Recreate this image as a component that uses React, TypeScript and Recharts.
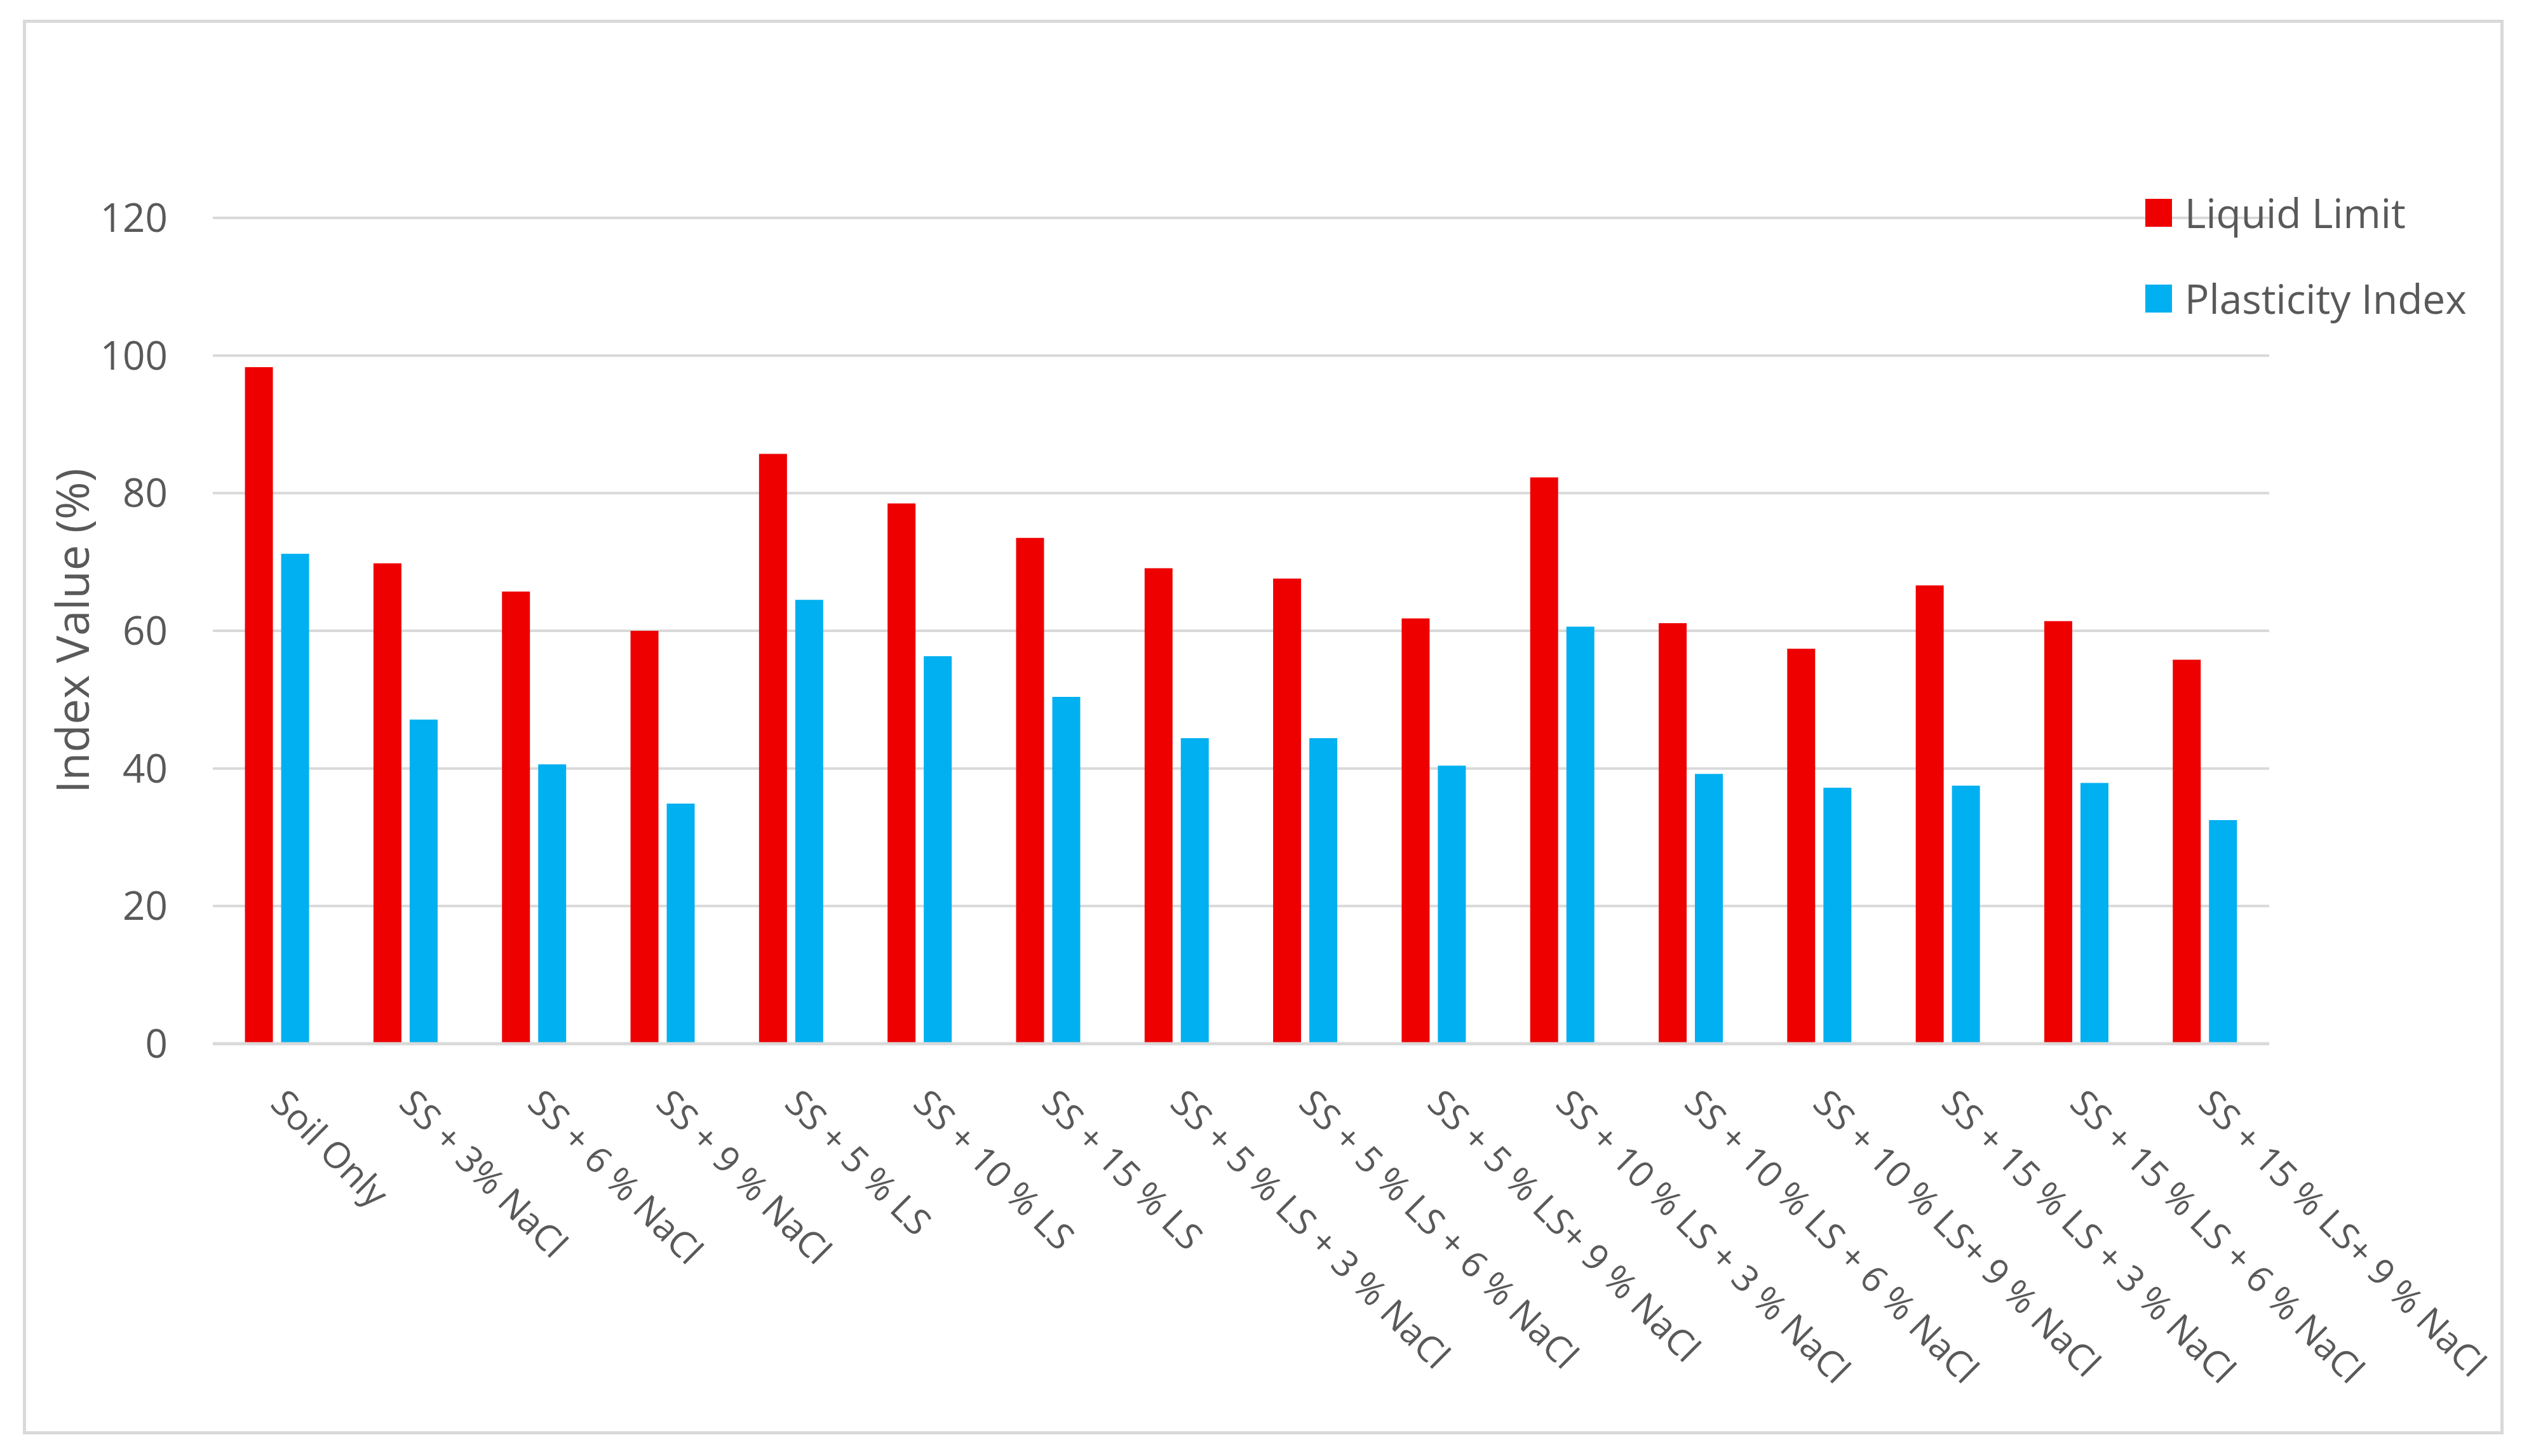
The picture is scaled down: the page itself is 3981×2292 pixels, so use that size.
import { BarChart, Bar, XAxis, YAxis, CartesianGrid, Legend } from "recharts";

const CATEGORIES = [
  "Soil Only",
  "SS + 3% NaCl",
  "SS + 6 % NaCl",
  "SS + 9 % NaCl",
  "SS + 5 % LS",
  "SS + 10 % LS",
  "SS + 15 % LS",
  "SS + 5 % LS + 3 % NaCl",
  "SS + 5 % LS + 6 % NaCl",
  "SS + 5 % LS+ 9 % NaCl",
  "SS + 10 % LS + 3 % NaCl",
  "SS + 10 % LS + 6 % NaCl",
  "SS + 10 % LS+ 9 % NaCl",
  "SS + 15 % LS + 3 % NaCl",
  "SS + 15 % LS + 6 % NaCl",
  "SS + 15 % LS+ 9 % NaCl",
];

const LIQUID_LIMIT = [98.3, 69.8, 65.7, 60.0, 85.7, 78.5, 73.5, 69.1, 67.6, 61.8, 82.3, 61.1, 57.4, 66.6, 61.4, 55.8];
const PLASTICITY_INDEX = [71.2, 47.1, 40.6, 34.9, 64.5, 56.3, 50.4, 44.4, 44.4, 40.4, 60.6, 39.2, 37.2, 37.5, 37.9, 32.5];

const Y_TICKS = [0, 20, 40, 60, 80, 100, 120];

const RED = "#EE0000";
const BLUE = "#00B0F0";
const TEXT = "#595959";
const GRID = "#D9D9D9";
const FONT = "'Open Sans', 'Noto Sans', sans-serif";

const data = CATEGORIES.map((name, i) => ({
  name,
  ll: LIQUID_LIMIT[i],
  pi: PLASTICITY_INDEX[i],
}));

function XTick({ x, y, payload }: any) {
  return (
    <text
      x={x - 13}
      y={y}
      transform={`rotate(45, ${x - 13}, ${y})`}
      textAnchor="start"
      fill={TEXT}
      fontSize={57}
      fontFamily={FONT}
    >
      {payload.value}
    </text>
  );
}

function YTitle({ viewBox }: any) {
  const cx = viewBox.x + 112;
  const cy = viewBox.y + viewBox.height / 2;
  return (
    <text
      x={cx}
      y={cy}
      transform={`rotate(-90, ${cx}, ${cy})`}
      textAnchor="middle"
      dominantBaseline="central"
      fill={TEXT}
      fontSize={72}
      fontFamily={FONT}
    >
      Index Value (%)
    </text>
  );
}

function LegendBox({ payload }: any) {
  return (
    <div>
      {payload.map((p: any) => (
        <div
          key={p.value}
          style={{ display: "flex", alignItems: "center", height: 135, fontFamily: FONT, fontSize: 64, color: TEXT }}
        >
          <div style={{ width: 42, height: 44, background: p.color, marginRight: 20 }} />
          <span>{p.value}</span>
        </div>
      ))}
    </div>
  );
}

export default function App() {
  return (
    <div style={{ position: "absolute", left: 0, top: 0, width: 3981, height: 2292, background: "#fff" }}>
      <div
        style={{
          position: "absolute",
          left: 36,
          top: 31,
          width: 3905,
          height: 2227,
          border: `5px solid ${GRID}`,
          boxSizing: "border-box",
        }}
      />
      <BarChart
        width={3981}
        height={2292}
        data={data}
        margin={{ top: 343, right: 409, bottom: 49, left: 0 }}
        barCategoryGap="25%"
        barGap={13}
      >
        <CartesianGrid vertical={false} stroke={GRID} strokeWidth={4} />
        <XAxis
          dataKey="name"
          interval={0}
          height={600}
          axisLine={{ stroke: GRID, strokeWidth: 5 }}
          tickLine={false}
          tickSize={6}
          tickMargin={91}
          tick={<XTick />}
        />
        <YAxis
          width={335}
          domain={[0, 120]}
          ticks={Y_TICKS}
          axisLine={false}
          tickLine={false}
          tickSize={6}
          tickMargin={65}
          tick={{ fill: TEXT, fontSize: 62, fontFamily: FONT }}
          label={{ content: <YTitle /> }}
        />
        <Legend
          layout="vertical"
          verticalAlign="middle"
          align="center"
          content={<LegendBox />}
          wrapperStyle={{ left: 3377, top: 267, width: 600 }}
        />
        <Bar dataKey="ll" name="Liquid Limit" fill={RED} isAnimationActive={false} />
        <Bar dataKey="pi" name="Plasticity Index" fill={BLUE} isAnimationActive={false} />
      </BarChart>
    </div>
  );
}
